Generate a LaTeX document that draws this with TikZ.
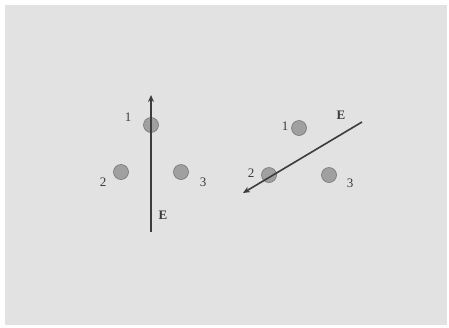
\documentclass[tikz,border=0pt]{standalone}
\usepackage{fontspec}
\setmainfont{Liberation Serif}
\usetikzlibrary{arrows.meta,positioning}
\definecolor{paper}{RGB}{226,226,226}
\definecolor{atomfill}{RGB}{160,160,160}
\definecolor{ink}{RGB}{60,60,60}

\begin{document}
\begin{tikzpicture}[
  x=1pt, y=-1pt,
  every node/.style={font=\fontsize{13}{15}\selectfont, text=ink},
  atom/.style={circle, draw=ink!70, fill=atomfill, line width=0.6pt, minimum size=15pt, inner sep=0pt},
  field/.style={-{Stealth[length=7pt,width=6pt]}, line width=1.6pt, draw=ink},
  >=Stealth
]

\useasboundingbox (0,0) rectangle (449,327);
\fill[paper] (5,5) rectangle (447,325);

% left molecule, field along the axis
\node[atom] (la1) at (151,125) {};
\node[atom] (la2) at (121,172) {};
\node[atom] (la3) at (181,172) {};
\node (ln1) at (128,117) {1};
\node (ln2) at (103,182) {2};
\node (ln3) at (203,182) {3};
\coordinate (lbot) at (151,232);
\coordinate (ltop) at (151,95);
\draw[field] (lbot) -- (ltop);
\node[font=\fontsize{13}{15}\selectfont\bfseries] (lE) at (163,215) {E};

% right molecule, field at an angle
\node[atom] (ra1) at (299,128) {};
\node[atom] (ra2) at (269,175) {};
\node[atom] (ra3) at (329,175) {};
\node (rn1) at (285,126) {1};
\node (rn2) at (251,173) {2};
\node (rn3) at (350,183) {3};
\coordinate (rtail) at (362,122);
\coordinate (rhead) at (243,193);
\draw[field] (rtail) -- (rhead);
\node[font=\fontsize{13}{15}\selectfont\bfseries] (rE) at (341,115) {E};

\end{tikzpicture}
\end{document}
